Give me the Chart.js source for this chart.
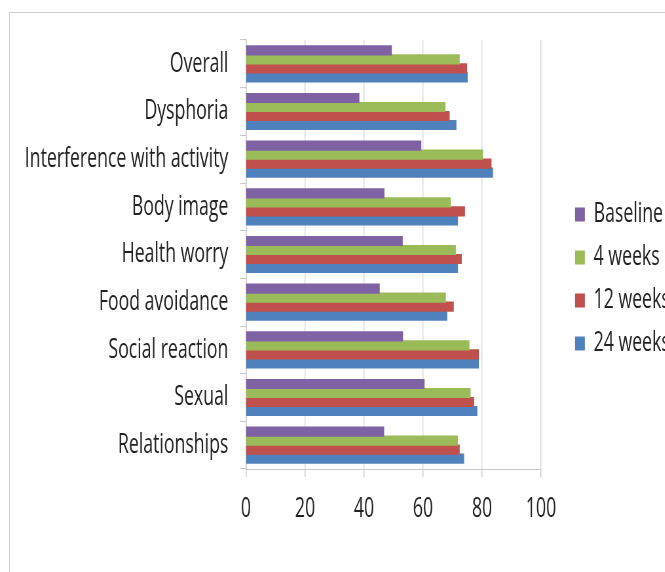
<!DOCTYPE html>
<html>
<head>
<meta charset="utf-8">
<script src="https://cdn.jsdelivr.net/npm/chart.js@4/dist/chart.umd.min.js"></script>
<style>
  html, body { margin: 0; padding: 0; background: #fff; }
  body { width: 665px; height: 572px; overflow: hidden; position: relative; }
  #frame { position: absolute; left: 9px; top: 12px; width: 900px; height: 900px;
           border: 1px solid #cfcfcf; box-sizing: border-box; }
  #wrap { position: absolute; left: 0; top: 0; transform-origin: 0 0; }
</style>
</head>
<body>
<div id="frame"></div>
<div id="wrap"><canvas id="chart"></canvas></div>
<script>
// Domains scored at each visit
const categories = [
  'Overall', 'Dysphoria', 'Interference with activity', 'Body image',
  'Health worry', 'Food avoidance', 'Social reaction', 'Sexual', 'Relationships'
];
const seriesNames = ['Baseline', '4 weeks', '12 weeks', '24 weeks'];
const baseline = [49.3, 38.3, 59.3, 46.8, 53.0, 45.2, 53.1, 60.4, 46.7];
const week4    = [72.3, 67.5, 80.2, 69.3, 71.0, 67.6, 75.6, 76.0, 71.7];
const week12   = [74.8, 68.9, 83.1, 74.1, 73.0, 70.3, 78.8, 77.2, 72.3];
const week24   = [75.0, 71.2, 83.6, 71.7, 71.7, 68.1, 78.8, 78.3, 73.8];
const xTickValues = [0, 20, 40, 60, 80, 100];

// Styling / layout
const seriesColors = ['#7F62A3', '#9BBB59', '#C0504D', '#4F81BD'];
const SX = 0.655;                // horizontal squeeze of the drawing
const W = 1120, H = 572;         // canvas size before the squeeze
const FONT = { family: '"Open Sans", "Noto Sans", sans-serif', size: 27 };
const TEXT = '#222';
const plotLeft = 246 / SX, plotRight = 541 / SX;
const legendBoxLeft = 575 / SX;
const legendPad = 16, boxW = 15, boxH = 14;

const wrap = document.getElementById('wrap');
wrap.style.transform = 'scaleX(' + SX + ')';
const canvas = document.getElementById('chart');
canvas.width = W; canvas.height = H;
canvas.style.width = W + 'px'; canvas.style.height = H + 'px';

// width the legend will take, so the plot ends where intended
const mctx = canvas.getContext('2d');
mctx.font = FONT.size + 'px ' + FONT.family;
const maxText = Math.max(...seriesNames.map(t => mctx.measureText(t).width));
const legendWidth = legendPad + boxW + FONT.size / 2 + maxText + 10;
const gapWidth = legendBoxLeft - legendPad - plotRight;
const padRight = W - (plotRight + gapWidth + legendWidth);

const data = [baseline, week4, week12, week24];

new Chart(canvas, {
  type: 'bar',
  data: {
    labels: categories,
    datasets: seriesNames.map((name, i) => ({
      label: name,
      data: data[i],
      backgroundColor: seriesColors[i],
      borderWidth: 0,
      inflateAmount: 0.6,
      categoryPercentage: 0.755,
      barPercentage: 1.0
    }))
  },
  options: {
    indexAxis: 'y',
    responsive: false,
    animation: false,
    devicePixelRatio: 1,
    layout: { padding: { top: 40, left: 0, right: padRight, bottom: 54 } },
    plugins: {
      tooltip: { enabled: false },
      legend: {
        position: 'right',
        align: 'center',
        labels: {
          boxWidth: boxW, boxHeight: boxH, padding: legendPad,
          color: TEXT, font: FONT
        }
      }
    },
    scales: {
      x: {
        min: xTickValues[0],
        max: xTickValues[xTickValues.length - 1],
        afterBuildTicks: s => { s.ticks = xTickValues.map(v => ({ value: v })); },
        afterFit: s => { s.height = 49; },
        grid: { color: '#d9d9d9', lineWidth: 1.5, tickLength: 8, tickColor: '#c8c8c8' },
        border: { color: '#c8c8c8', width: 1 },
        ticks: { color: TEXT, font: FONT, padding: 16 }
      },
      y: {
        afterFit: s => { s.width = plotLeft; },
        grid: { drawOnChartArea: false, drawTicks: true, tickLength: 9, color: '#c8c8c8', offset: true },
        border: { color: '#c8c8c8', width: 1.5 },
        ticks: { color: TEXT, font: FONT, padding: 18, autoSkip: false }
      },
      gap: {
        type: 'linear',
        position: 'right',
        display: true,
        afterFit: s => { s.width = gapWidth; },
        grid: { display: false, drawTicks: false },
        border: { display: false },
        ticks: { display: false }
      }
    }
  }
});
</script>
</body>
</html>
